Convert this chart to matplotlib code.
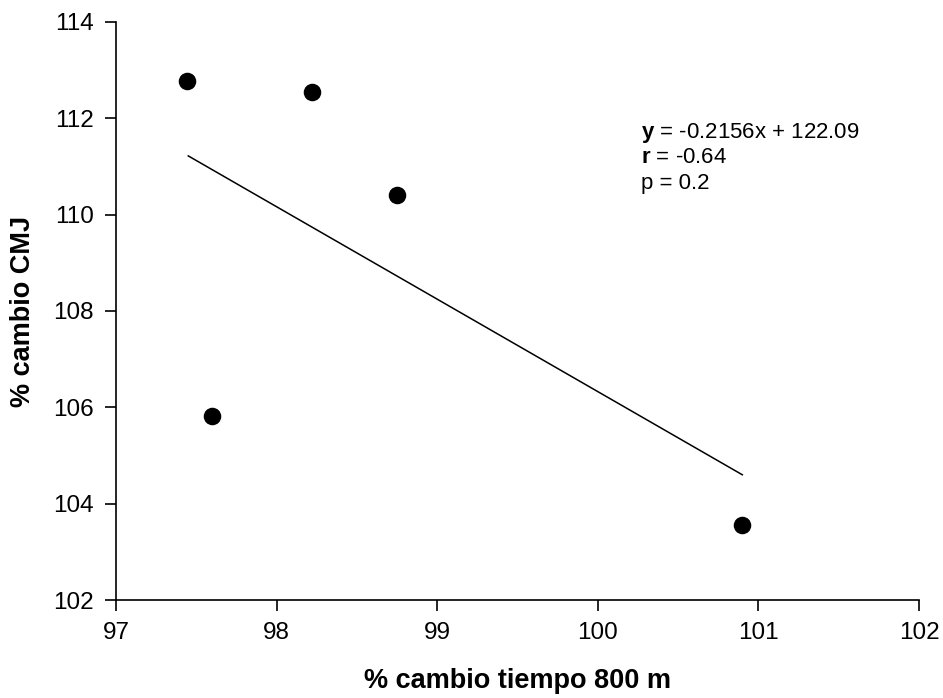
import matplotlib
matplotlib.use("Agg")
import matplotlib.pyplot as plt

plt.rcParams['font.family'] = ['Liberation Sans', 'DejaVu Sans']
plt.rcParams['mathtext.fontset'] = 'custom'
plt.rcParams['mathtext.rm'] = 'Liberation Sans'
plt.rcParams['mathtext.bf'] = 'Liberation Sans:bold'

x_vals = [97.44, 98.22, 98.75, 97.60, 100.90]
y_vals = [112.77, 112.55, 110.41, 105.81, 103.55]
line_x = [97.45, 100.90]
line_y = [111.22, 104.60]
x_ticks = [97, 98, 99, 100, 101, 102]
y_ticks = [102, 104, 106, 108, 110, 112, 114]

fig = plt.figure(figsize=(9.43, 6.98), dpi=100)
ax = fig.add_axes([0.123, 0.1404, 0.8515, 0.8281])
ax.plot(line_x, line_y, color='black', lw=1.1)
ax.scatter(x_vals, y_vals, s=135, color='black', zorder=3, clip_on=False)
ax.set_xlim(97, 102)
ax.set_ylim(102, 114)
ax.set_xticks(x_ticks)
ax.set_yticks(y_ticks)
ax.spines['top'].set_visible(False)
ax.spines['right'].set_visible(False)
for s in ['left', 'bottom']:
    ax.spines[s].set_linewidth(1.2)
ax.tick_params(direction='out', length=8, width=1.2, labelsize=17.5, pad=8)
ax.set_xlabel('% cambio tiempo 800 m', fontsize=19.5, fontweight='bold', labelpad=17)
ax.set_ylabel('% cambio CMJ', fontsize=19.5, fontweight='bold', labelpad=12)

ax.text(100.27, 111.95, r'$\mathbf{y}$ = -0.2156x + 122.09', fontsize=16, va='top')
ax.text(100.27, 111.41, r'$\mathbf{r}$ = -0.64', fontsize=16, va='top')
ax.text(100.27, 110.87, 'p = 0.2', fontsize=16, va='top')

fig.savefig('out.png', dpi=100)
